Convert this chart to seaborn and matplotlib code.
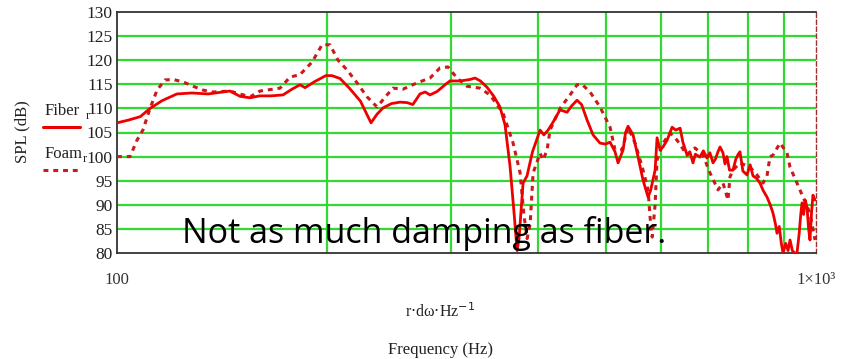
import numpy as np
import pandas as pd
import matplotlib
matplotlib.use("Agg")
import matplotlib.pyplot as plt
import seaborn as sns

fiber_pts = [
    (100, 107.0), (104, 107.6), (108, 108.3), (111.5, 110.0), (116, 111.6), (121.8, 113.0),
    (128, 113.2), (135, 113.0), (140, 113.3), (145, 113.6), (150, 112.5), (155, 112.2),
    (160, 112.6), (166, 112.6), (172.8, 112.8), (178, 114.0), (182.7, 114.9), (185.8, 114.3),
    (192, 115.6), (199, 116.8), (203, 116.8), (208.5, 116.2), (215, 114.2), (223, 111.5),
    (230.9, 107.0), (235.5, 108.8), (240.2, 110.1), (247, 111.0), (254.1, 111.3), (260, 111.2),
    (265, 110.8), (271.3, 113.0), (276, 113.4), (280.4, 112.8), (287, 113.5), (294.6, 114.9),
    (299.5, 115.7), (310, 115.7), (319.9, 116.0), (325.2, 116.3), (331, 115.7), (338.3, 114.4),
    (346, 112.5), (353.1, 110.3), (359, 106.6), (365, 98.0), (370, 88.0), (373.6, 80.5),
    (376, 83.0), (379, 90.0), (381, 94.5), (386, 96.0), (393, 101.0), (403, 105.5),
    (408, 104.5), (413.7, 105.5), (420, 107.0), (430.3, 109.7), (440.4, 109.2), (447, 110.5),
    (455.1, 111.7), (462, 110.8), (470.4, 107.6), (479.8, 104.5), (490.9, 102.8), (500, 102.6),
    (507.4, 103.0), (515.8, 101.0), (521, 98.7), (529.7, 101.4), (534, 105.0), (538.4, 106.3),
    (547.4, 104.5), (556.5, 99.9), (565.7, 95.1), (575.1, 91.6), (580, 93.0), (588.6, 97.2),
    (592.4, 103.9), (598.3, 101.4), (604, 102.0), (612.3, 103.4), (622.5, 106.1), (630, 105.5),
    (639.1, 105.9), (645, 103.0), (654, 100.3), (660, 101.0), (666.8, 98.7), (672, 100.5),
    (682.3, 99.9), (690, 101.2), (698.3, 99.7), (705, 100.8), (712.3, 98.7), (718, 99.5),
    (724, 101.0), (729, 102.0), (736, 100.8), (741, 98.5), (745.9, 100.0), (752, 97.2),
    (760.7, 97.2), (768, 99.5), (774, 100.5), (778.5, 101.0), (786, 97.0), (796.6, 96.2),
    (805, 98.3), (812.6, 96.0), (822, 95.5), (831.6, 94.5), (840, 93.0), (851, 91.6),
    (860, 90.0), (867.9, 88.3), (875, 86.0), (879.4, 84.1), (886, 85.5), (892, 82.0),
    (897, 80.0), (905, 82.0), (912, 80.5), (918, 82.7), (925, 80.5), (932, 80.0),
    (939.4, 80.0), (946, 84.0), (951, 88.0), (955, 90.4), (960, 88.0), (965, 91.0),
    (970.8, 89.5), (976, 85.0), (980.4, 82.7), (985, 88.0), (990, 92.0), (996.8, 91.0),
]
foam_pts = [
    (100, 100.0), (104.4, 100.0), (106.8, 103.4), (108.9, 105.5), (111.5, 110.0), (114.1, 113.8),
    (117.1, 115.9), (120.3, 116.0), (124.3, 115.5), (128.5, 114.6), (132.7, 113.8), (137.2, 113.4),
    (145, 113.6), (155, 112.4), (160.2, 113.6), (171.1, 114.2), (176.8, 116.5), (182.7, 117.0),
    (190.1, 119.6), (196.5, 123.2), (201.7, 123.2), (207.1, 120.0), (213.3, 118.0), (220.5, 115.3),
    (227.9, 112.4), (235.5, 110.3), (243.4, 112.8), (248.2, 114.2), (256.6, 114.0), (268.7, 115.3),
    (280.4, 116.3), (289.8, 118.4), (297.5, 118.6), (306.5, 116.3), (316.7, 114.6), (330.6, 114.2),
    (341.7, 112.8), (356.7, 109.0), (368.7, 102.8), (377.3, 96.6), (382, 88.0), (386.1, 83.0),
    (390, 86.0), (393.8, 96.6), (403, 100.7), (407, 99.3), (412.4, 101.4), (416.4, 105.5),
    (430.3, 110.0), (444.8, 112.8), (455.1, 114.9), (462.7, 115.0), (475.1, 113.4), (490.9, 110.3),
    (507.4, 106.1), (515.8, 101.4), (527.9, 101.4), (538.4, 106.1), (551, 102.8), (565.7, 97.2),
    (575.1, 93.1), (578.9, 87.5), (583, 83.3), (588.6, 90.0), (592.4, 99.3), (604.3, 102.8),
    (618.4, 104.9), (632.8, 103.4), (654, 100.3), (671.3, 101.8), (689.2, 100.3), (705.3, 96.6),
    (724.1, 93.1), (736.2, 94.5), (748.3, 91.0), (753.3, 95.8), (760.7, 97.2), (778.5, 98.7),
    (804.5, 97.8), (823.3, 96.2), (839.8, 94.5), (851, 96.0), (859.4, 100.0), (867.9, 100.3),
    (888.2, 102.8), (908.9, 100.8), (918, 97.8), (939.4, 94.5), (958.1, 91.6), (980.4, 88.3),
    (996.8, 82.7),
]
fiber_freq = [p[0] for p in fiber_pts]
fiber_spl = [p[1] for p in fiber_pts]
foam_freq = [p[0] for p in foam_pts]
foam_spl = [p[1] for p in foam_pts]

y_ticks = [80, 85, 90, 95, 100, 105, 110, 115, 120, 125, 130]
x_grid = [200, 300, 400, 500, 600, 700, 800, 900]
x_tick_vals = [100, 1000]
x_tick_labels = ["100", "1×10³"]

sns.set_style("white")
plt.rcParams["font.family"] = ["Liberation Serif", "DejaVu Serif"]

fig = plt.figure(figsize=(8.49, 3.59), dpi=100)
W, H = 849, 359
ax = fig.add_axes([117 / W, 1 - 253 / H, (816 - 117) / W, (253 - 12) / H])

df_fiber = pd.DataFrame({"f": fiber_freq, "spl": fiber_spl})
df_foam = pd.DataFrame({"f": foam_freq, "spl": foam_spl})

ax.set_xscale("log")
for v in y_ticks[1:-1]:
    ax.axhline(v, color="#33d933", lw=1.6, zorder=1)
for v in x_grid:
    ax.axvline(v, color="#33d933", lw=1.6, zorder=1)

sns.lineplot(data=df_foam, x="f", y="spl", ax=ax, color="#cc1a1a", lw=2.2,
             estimator=None, sort=False, zorder=3)
ax.lines[-1].set_dashes([1.6, 1.6])
sns.lineplot(data=df_fiber, x="f", y="spl", ax=ax, color="#ee0000", lw=2.0,
             estimator=None, sort=False, zorder=4)

ax.set_xlim(100, 1000)
ax.set_ylim(80, 130)
ax.set_yticks(y_ticks)
ax.set_yticklabels([str(v) for v in y_ticks], fontsize=12.5, color="#222222")
ax.set_xticks(x_tick_vals)
ax.set_xticklabels(x_tick_labels, fontsize=12, color="#333333")
ax.xaxis.set_minor_locator(matplotlib.ticker.NullLocator())
ax.tick_params(axis="both", length=0)
ax.tick_params(axis="y", pad=3)
ax.tick_params(axis="x", pad=14)
ax.set_xlabel("")
ax.set_ylabel("")
for s in ["top", "left", "bottom"]:
    ax.spines[s].set_color("#333333")
    ax.spines[s].set_linewidth(1.3)
ax.spines["right"].set_color("#a03030")
ax.spines["right"].set_linewidth(1.0)
ax.spines["right"].set_linestyle((0, (3, 2)))

# y label
fig.text(22 / W, 1 - 132 / H, "SPL (dB)", rotation=90, ha="center", va="center",
         fontsize=12, color="#222222")
# legend
fig.text(45 / W, 1 - 115 / H, "Fiber", ha="left", va="baseline", fontsize=12, color="#222222")
fig.text(86 / W, 1 - 119 / H, "r", ha="left", va="baseline", fontsize=9, color="#222222")
fig.add_artist(matplotlib.lines.Line2D([43 / W, 80 / W], [1 - 127 / H, 1 - 127 / H],
                                       color="#ee0000", lw=2.2))
fig.text(45 / W, 1 - 158 / H, "Foam", ha="left", va="baseline", fontsize=12, color="#222222")
fig.text(83 / W, 1 - 162 / H, "r", ha="left", va="baseline", fontsize=9, color="#222222")
l2 = matplotlib.lines.Line2D([43 / W, 78 / W], [1 - 170 / H, 1 - 170 / H],
                             color="#cc1a1a", lw=2.2)
l2.set_dashes([1.6, 1.6])
fig.add_artist(l2)

# x axis labels
fig.text(440 / W, 1 - 312 / H, r"r$\cdot$dω$\cdot$Hz$^{-1}$", ha="center", va="center",
         fontsize=11.5, color="#222222")
fig.text(440 / W, 1 - 350 / H, "Frequency (Hz)", ha="center", va="center",
         fontsize=12, color="#222222")

# overlay annotation
fig.text(182 / W, 1 - 243 / H, "Not as much damping as fiber.", ha="left", va="baseline",
         fontsize=24.5, color="black", family=["Open Sans", "DejaVu Sans"], zorder=10)

fig.savefig("out.png", dpi=100)
